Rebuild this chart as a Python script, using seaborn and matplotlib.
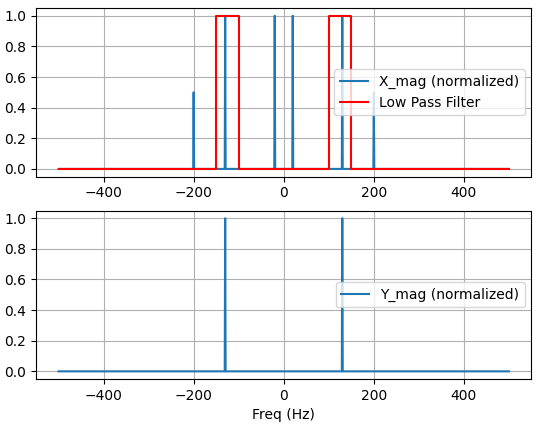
import numpy as np
import pandas as pd
import matplotlib
matplotlib.use("Agg")
import matplotlib.pyplot as plt
import seaborn as sns

# Data
freq_range = [-500, 500]
x_peak_freqs = [-200, -130, -20, 20, 130, 200]
x_peak_mags = [0.5, 1.0, 1.0, 1.0, 1.0, 0.5]
y_peak_freqs = [-130, 130]
y_peak_mags = [1.0, 1.0]
filter_edges = [(-150, -100), (100, 150)]
spike_halfwidth = 1.0
y_ticks = [0.0, 0.2, 0.4, 0.6, 0.8, 1.0]


def spike_series(freqs, mags):
    xs = [freq_range[0]]
    ys = [0.0]
    for f, m in zip(freqs, mags):
        xs += [f - spike_halfwidth, f, f + spike_halfwidth]
        ys += [0.0, m, 0.0]
    xs.append(freq_range[1])
    ys.append(0.0)
    return pd.DataFrame({"freq": xs, "mag": ys})


def filter_series(edges):
    xs = [freq_range[0]]
    ys = [0.0]
    for lo, hi in edges:
        xs += [lo, lo, hi, hi]
        ys += [0.0, 1.0, 1.0, 0.0]
    xs.append(freq_range[1])
    ys.append(0.0)
    return pd.DataFrame({"freq": xs, "mag": ys})


x_df = spike_series(x_peak_freqs, x_peak_mags)
y_df = spike_series(y_peak_freqs, y_peak_mags)
f_df = filter_series(filter_edges)

fig, (ax1, ax2) = plt.subplots(2, 1, figsize=(5.39, 4.28), dpi=100)

sns.lineplot(data=x_df, x="freq", y="mag", ax=ax1, color="#1f77b4",
             sort=False, estimator=None, label="X_mag (normalized)", linewidth=1.5)
sns.lineplot(data=f_df, x="freq", y="mag", ax=ax1, color="red",
             sort=False, estimator=None, label="Low Pass Filter", linewidth=1.5)
ax1.set_xlabel("")
ax1.set_ylabel("")
ax1.grid(True)
ax1.legend(loc="center right")

sns.lineplot(data=y_df, x="freq", y="mag", ax=ax2, color="#1f77b4",
             sort=False, estimator=None, label="Y_mag (normalized)", linewidth=1.5)
ax2.set_xlabel("Freq (Hz)")
ax2.set_ylabel("")
ax2.grid(True)
ax2.legend(loc="center right")

for ax in (ax1, ax2):
    ax.set_yticks(y_ticks)
    ax.set_yticklabels([f"{t:.1f}" for t in y_ticks])

fig.subplots_adjust(left=0.0668, right=0.986, top=0.981, bottom=0.1145, hspace=0.202)
fig.savefig("out.png", dpi=100)
